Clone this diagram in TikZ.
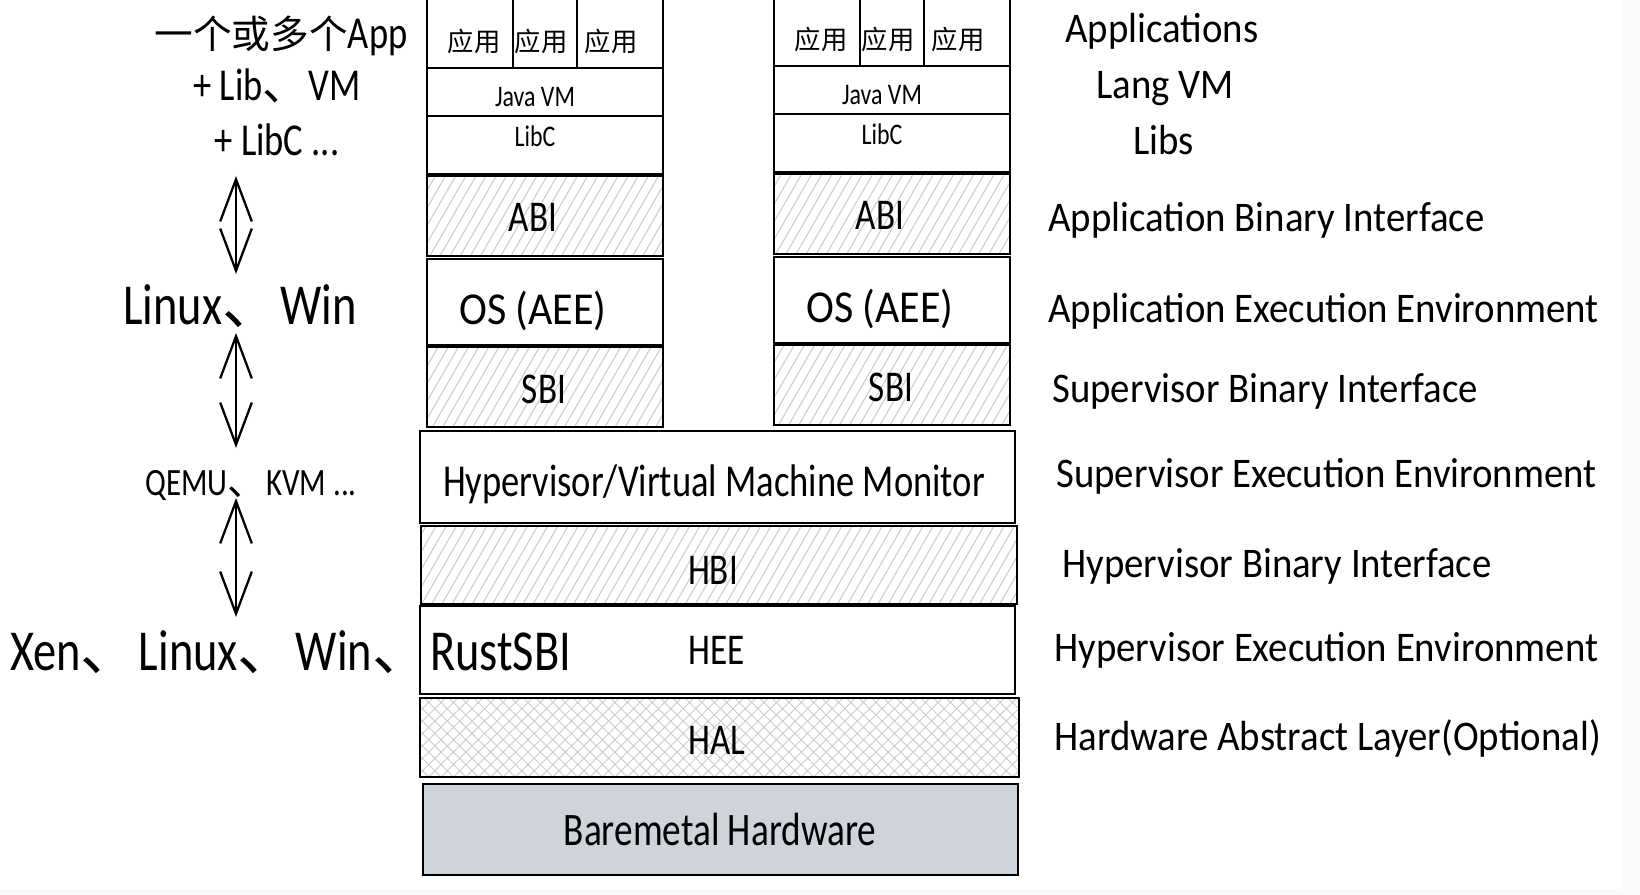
\documentclass[tikz,border=0pt]{standalone}
\usepackage{fontspec}
\setmainfont[FakeStretch=0.8]{Carlito}
\newfontfamily\widefont[FakeStretch=0.92]{Carlito}
\newfontfamily\cjk{Noto Sans CJK SC}
\usetikzlibrary{arrows.meta,patterns.meta}

\definecolor{hatch}{RGB}{200,204,210}
\definecolor{metal}{RGB}{206,212,218}
\definecolor{edge}{RGB}{248,249,250}

\tikzset{
  layer/.style={draw=black, line width=1.5pt},
  hatched/.style={layer, pattern={Lines[angle=60,distance=5pt,line width=0.6pt]}, pattern color=hatch},
  crossed/.style={layer, pattern={Hatch[angle=45,distance=5pt,line width=0.5pt]}, pattern color=hatch},
  txt/.style={font=\fontsize{25}{30}\selectfont, anchor=base, inner sep=0pt},
  small/.style={font=\fontsize{17}{20}\selectfont, anchor=base, inner sep=0pt},
  app/.style={font=\cjk\fontsize{15}{18}\selectfont, anchor=base, inner sep=0pt},
  lbl/.style={font=\widefont\fontsize{24}{28}\selectfont, anchor=base west, inner sep=0pt},
  side/.style={font=\fontsize{26}{30}\selectfont, anchor=base, inner sep=0pt},
  big/.style={font=\fontsize{33}{38}\selectfont, anchor=base west, inner sep=0pt},
  updown/.style={{Straight Barb[length=24pt,width=18pt]}-{Straight Barb[length=24pt,width=18pt]}, line width=1.3pt}
}

\begin{document}
\begin{tikzpicture}[x=0.02cm, y=-0.02cm]
\useasboundingbox (0,0) rectangle (1640,895);
\fill[edge] (0,0) rectangle (1640,895);
\fill[white] (0,0) rectangle (1623,889);

% guest stacks
\foreach \c/\dx/\dy in {L/0/0, R/347/-2} {
\begin{scope}[shift={(\dx,\dy)}]
\draw[layer] (427,-2) rectangle (663,68);
\draw[layer] (513,-2) -- (513,68) (577,-2) -- (577,68);
\draw[layer] (427,68) rectangle (663,116);
\draw[layer] (427,116) rectangle (663,174);
\draw[hatched] (427,176) rectangle (663,256);
\draw[layer] (427,259) rectangle (663,345);
\draw[hatched] (427,347) rectangle (663,427);
\node[app] (appa\c) at (474,52) {应用};
\node[app] (appb\c) at (541,52) {应用};
\node[app] (appc\c) at (611,52) {应用};
\node[small] (jvm\c) at (535,107) {Java VM};
\node[small] (libc\c) at (535,147) {LibC};
\node[txt] (abi\c) at (533,232) {ABI};
\node[txt, font=\widefont\fontsize{26}{30}\selectfont] (os\c) at (533,324) {OS (AEE)};
\node[txt] (sbi\c) at (544,403) {SBI};
\end{scope}
}

% shared layers
\draw[layer] (420,431) rectangle (1015,523);
\draw[hatched] (421,526) rectangle (1017,604);
\draw[layer] (420,606) rectangle (1015,694);
\draw[crossed] (420,698) rectangle (1019,777);
\draw[layer, fill=metal] (423,784) rectangle (1018,875);
\node[txt, font=\fontsize{26}{30}\selectfont] (hyp) at (714,496) {Hypervisor/Virtual Machine Monitor};
\node[txt] (hbi) at (713,584) {HBI};
\node[txt] (hee) at (717,664) {HEE};
\node[txt] (hal) at (717,754) {HAL};
\node[txt, font=\fontsize{26.5}{30}\selectfont] (bare) at (720,845) {Baremetal Hardware};

% names on the right
\node[lbl] (n1) at (1065,43) {Applications};
\node[lbl] (n2) at (1096,99) {Lang VM};
\node[lbl] (n3) at (1133,155) {Libs};
\node[lbl] (n4) at (1048,232) {Application Binary Interface};
\node[lbl] (n5) at (1048,322) {Application Execution Environment};
\node[lbl] (n6) at (1052,402) {Supervisor Binary Interface};
\node[lbl] (n7) at (1056,487) {Supervisor Execution Environment};
\node[lbl] (n8) at (1062,577) {Hypervisor Binary Interface};
\node[lbl] (n9) at (1054,661) {Hypervisor Execution Environment};
\node[lbl] (n10) at (1054,750) {Hardware Abstract Layer(Optional)};

% examples on the left
\node[side] (apps) at (281,49) {{\cjk\fontsize{22}{26}\selectfont 一个或多个}App};
\node[side] (libvm) at (277,101) {+ Lib{\cjk 、}VM};
\node[side] (libs) at (277,156) {+ LibC ...};
\node[big] (linux) at (123,324) {Linux{\cjk 、}Win};
\node[side, font=\fontsize{22}{26}\selectfont] (qemu) at (251,495) {QEMU{\cjk 、}KVM ...};
\node[big] (xen) at (10,670) {Xen{\cjk 、}Linux{\cjk 、}Win{\cjk 、}RustSBI};

% arrows
\coordinate (a1) at (236,176);
\coordinate (a2) at (236,274);
\coordinate (a3) at (236,333);
\coordinate (a4) at (236,448);
\coordinate (a5) at (236,498);
\coordinate (a6) at (236,617);
\draw[updown] (a1) -- (a2);
\draw[updown] (a3) -- (a4);
\draw[updown] (a5) -- (a6);
\end{tikzpicture}
\end{document}
